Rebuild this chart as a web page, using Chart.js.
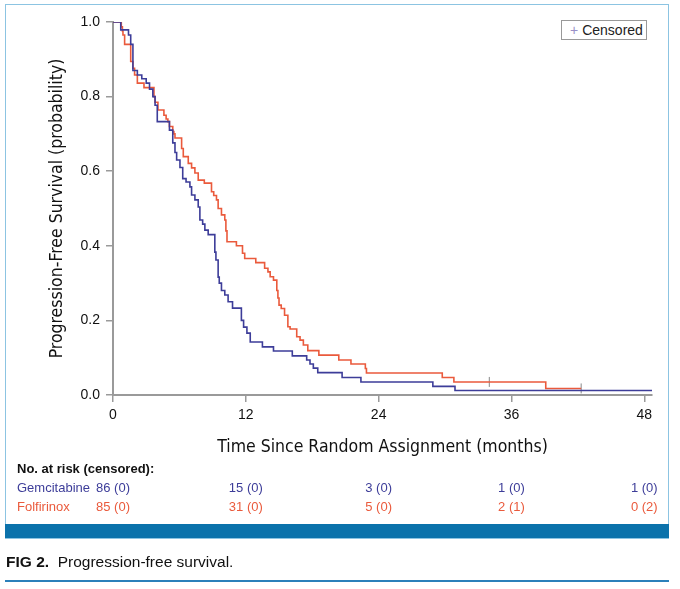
<!DOCTYPE html>
<html>
<head>
<meta charset="utf-8">
<script src="https://cdn.jsdelivr.net/npm/chart.js@4.4.1/dist/chart.umd.min.js"></script>
<style>
	body { margin:0; background:#fff; }
	#wrap { position:relative; width:680px; height:589px; overflow:hidden; }
	#c { position:absolute; left:0; top:0; }
	.frame { position:absolute; left:5px; top:4px; width:662px; height:533px; border:1px solid #8cc4e2; }
	.band { position:absolute; left:5px; top:524px; width:664px; height:14px; background:#0b72ab; }
	.legend { position:absolute; left:561px; top:20px; width:84px; height:18px; border:1px solid #999; background:#fff;
		font:14px "Liberation Sans", Arial, sans-serif; color:#222; line-height:18px; }
	.legend span { color:#9a8fc8; margin:0 4px 0 8px; }
	.caption { position:absolute; left:6px; top:553px; font:15.5px "Liberation Sans", Arial, sans-serif; color:#111; }
	.rule { position:absolute; left:5px; top:580px; width:664px; height:2px; background:#2b80ba; }
</style>
</head>
<body>
<div id="wrap">
	<canvas id="c" width="680" height="589"></canvas>
	<div class="frame"></div>
	<div class="band"></div>
	<div class="legend"><span>+</span>Censored</div>
	<div class="caption"><b>FIG 2.</b>&nbsp; Progression-free survival.</div>
	<div class="rule"></div>
</div>
<script>
// data ========================================================================================
const xTicks = [0, 12, 24, 36, 48]
const yTicks = [0, 0.2, 0.4, 0.6, 0.8, 1.0]

const gemTime = [0, 0.7, 1.4, 1.6, 1.8, 2.2, 2.6, 3.0, 3.3, 3.6, 3.8, 4.0, 5.1, 5.4, 5.6, 5.75, 6.05, 6.3, 6.6, 6.95, 7.1, 7.4, 7.7, 7.85, 8.1, 8.3, 8.6, 9.2, 9.3, 9.5, 9.6, 9.8, 10.1, 10.4, 10.8, 11.6, 11.8, 12.1, 12.4, 13.5, 14.5, 16.2, 17.5, 17.8, 18.1, 18.5, 20.7, 22.4, 28.9, 30.9, 48.7]
const gemSurv = [1.0, 0.979, 0.965, 0.94, 0.87, 0.858, 0.848, 0.836, 0.82, 0.80, 0.777, 0.733, 0.71, 0.676, 0.65, 0.63, 0.61, 0.58, 0.571, 0.558, 0.536, 0.523, 0.504, 0.469, 0.458, 0.442, 0.43, 0.383, 0.362, 0.316, 0.30, 0.28, 0.268, 0.25, 0.233, 0.20, 0.182, 0.166, 0.142, 0.129, 0.118, 0.105, 0.094, 0.083, 0.072, 0.06, 0.047, 0.035, 0.023, 0.012, 0.012]

const folTime = [0, 0.75, 0.85, 0.9, 1.05, 1.6, 1.8, 1.95, 2.2, 2.8, 3.7, 3.8, 4.06, 4.6, 4.8, 4.96, 5.1, 5.4, 5.5, 5.6, 6.2, 6.35, 6.8, 7.1, 7.4, 7.7, 8.25, 8.9, 9.1, 9.35, 9.5, 9.8, 10.1, 10.2, 10.3, 11.15, 11.7, 11.9, 12.9, 13.7, 14.0, 14.2, 14.5, 14.8, 14.9, 15.0, 15.2, 15.5, 15.8, 16.0, 16.6, 16.9, 17.2, 17.6, 18.6, 20.4, 21.5, 22.8, 22.9, 29.75, 30.8, 39.1, 42.3]
const folSurv = [1.0, 0.987, 0.976, 0.965, 0.94, 0.894, 0.876, 0.858, 0.836, 0.824, 0.80, 0.785, 0.764, 0.75, 0.74, 0.733, 0.72, 0.706, 0.70, 0.689, 0.661, 0.639, 0.621, 0.609, 0.595, 0.576, 0.568, 0.545, 0.535, 0.523, 0.50, 0.483, 0.469, 0.44, 0.411, 0.40, 0.38, 0.366, 0.355, 0.34, 0.33, 0.317, 0.308, 0.28, 0.26, 0.241, 0.232, 0.214, 0.183, 0.177, 0.156, 0.147, 0.134, 0.119, 0.107, 0.094, 0.083, 0.071, 0.059, 0.047, 0.035, 0.0176, 0.0176]

const censorTime = [34.0, 42.3]
const censorSurv = [0.035, 0.0176]

const riskGem = ['86 (0)', '15 (0)', '3 (0)', '1 (0)', '1 (0)']
const riskFol = ['85 (0)', '31 (0)', '5 (0)', '2 (1)', '0 (2)']

const blue = '#3d3d99'
const red = '#ea5a3c'
const axisGrey = '#9a9a9a'
const condensed = '"Liberation Sans Narrow", "DejaVu Sans Condensed", sans-serif'
const plain = '"Liberation Sans", Arial, sans-serif'

const pts = (t, s) => t.map((v, i) => ({x: v, y: s[i]}))

// risk table drawn under the x axis, placed by the x scale ======================================
const riskTable = {
	id: 'riskTable',
	afterDraw: chart => {
		const ctx = chart.ctx
		const x = chart.scales.x
		ctx.save()
		ctx.textBaseline = 'middle'
		ctx.textAlign = 'left'
		ctx.fillStyle = '#111'
		ctx.font = 'bold 13px ' + plain
		ctx.fillText('No. at risk (censored):', 17, 469)
		ctx.font = '13px ' + plain
		ctx.fillStyle = blue
		ctx.fillText('Gemcitabine', 17, 488)
		ctx.fillStyle = red
		ctx.fillText('Folfirinox', 17, 507)
		ctx.textAlign = 'center'
		xTicks.forEach((v, i) => {
			const px = x.getPixelForValue(v)
			ctx.fillStyle = blue
			ctx.fillText(riskGem[i], px, 488)
			ctx.fillStyle = red
			ctx.fillText(riskFol[i], px, 507)
		})
		ctx.restore()
	}
}

new Chart(document.getElementById('c'), {
	type: 'line',
	data: {
		datasets: [
			{
				label: 'Gemcitabine',
				data: pts(gemTime, gemSurv),
				stepped: true,
				borderColor: blue,
				borderWidth: 1.6,
				pointRadius: 0,
				fill: false,
			},
			{
				label: 'Folfirinox',
				data: pts(folTime, folSurv),
				stepped: true,
				borderColor: red,
				borderWidth: 1.6,
				pointRadius: 0,
				fill: false,
			},
			{
				label: 'Censored',
				data: pts(censorTime, censorSurv),
				showLine: false,
				pointStyle: 'line',
				rotation: 90,
				pointRadius: 5,
				borderColor: '#888',
				borderWidth: 1,
			},
		]
	},
	options: {
		responsive: false,
		animation: false,
		layout: { padding: { left: 0, top: 22, right: 28, bottom: 129 } },
		plugins: {
			legend: { display: false },
			tooltip: { enabled: false },
		},
		scales: {
			x: {
				type: 'linear',
				min: 0,
				max: 48.7,
				afterFit: s => { s.height = 65 },
				afterBuildTicks: s => { s.ticks = xTicks.map(v => ({value: v})) },
				grid: { drawOnChartArea: false, tickLength: 7, color: axisGrey, lineWidth: 1.5 },
				border: { color: axisGrey, width: 2 },
				ticks: { color: '#111', font: { size: 14, family: plain }, padding: 5, maxRotation: 0 },
				title: {
					display: true,
					text: 'Time Since Random Assignment (months)',
					color: '#111',
					font: { size: 17.5, family: condensed },
					padding: { top: 0, bottom: 2 },
				}
			},
			y: {
				min: 0,
				max: 1,
				afterFit: s => { s.width = 113 },
				afterBuildTicks: s => { s.ticks = yTicks.map(v => ({value: v})) },
				grid: { drawOnChartArea: false, tickLength: 7, color: axisGrey, lineWidth: 1.5 },
				border: { color: axisGrey, width: 2 },
				ticks: { color: '#111', font: { size: 14, family: plain }, padding: 6, callback: v => v.toFixed(1) },
				title: {
					display: true,
					text: 'Progression-Free Survival (probability)',
					color: '#111',
					font: { size: 17.5, family: condensed },
					padding: { top: 47, bottom: 0 },
				}
			}
		}
	},
	plugins: [riskTable]
})
</script>
</body>
</html>
